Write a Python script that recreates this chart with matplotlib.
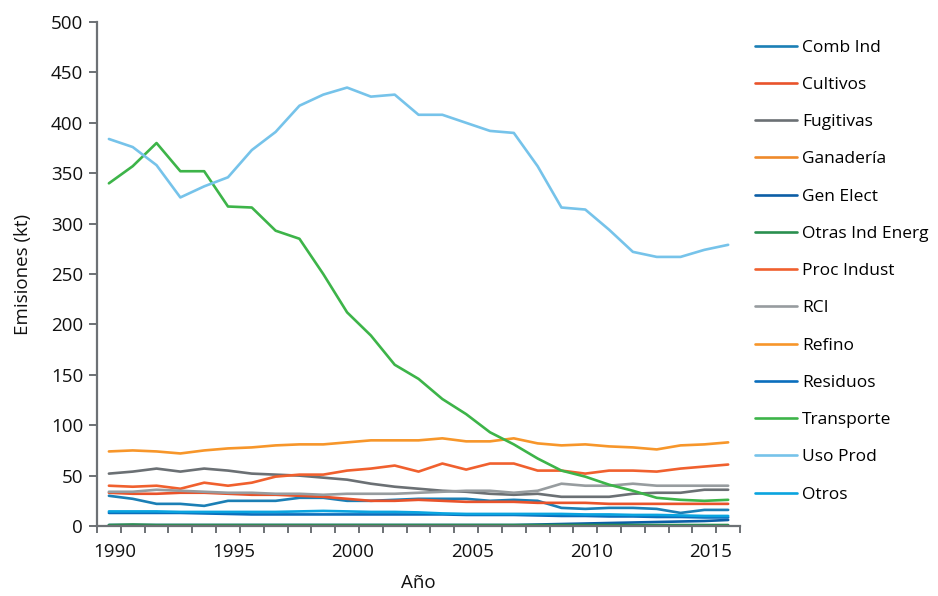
import numpy as np
import matplotlib
matplotlib.use("Agg")
import matplotlib.pyplot as plt
from matplotlib.ticker import MultipleLocator, FixedLocator

plt.rcParams['font.family'] = ['Open Sans', 'DejaVu Sans']

# --- Data ---
years = list(range(1990, 2017))

comb_ind = [30, 27, 22, 22, 20, 25, 25, 25, 28, 28, 25, 25, 26, 27, 27, 27, 25, 26, 25, 18, 17, 18, 18, 17, 13, 16, 16]
cultivos = [33, 32, 32, 33, 33, 32, 31, 31, 30, 29, 27, 25, 25, 26, 25, 24, 24, 24, 23, 23, 23, 22, 22, 22, 22, 22, 22]
fugitivas = [52, 54, 57, 54, 57, 55, 52, 51, 50, 48, 46, 42, 39, 37, 35, 34, 32, 31, 32, 29, 29, 29, 32, 33, 33, 36, 36]
ganaderia = [0.3, 0.3, 0.3, 0.3, 0.3, 0.3, 0.3, 0.3, 0.3, 0.3, 0.3, 0.3, 0.3, 0.3, 0.3, 0.3, 0.3, 0.3, 0.3, 0.3, 0.3, 0.3, 0.3, 0.3, 0.3, 0.3, 0.3]
gen_elect = [1, 1, 1, 1, 1, 1, 1, 1, 1, 1, 1, 1, 1, 1, 1, 1, 1, 1, 1.5, 2, 2.5, 3, 3.5, 4, 4.5, 5, 6]
otras_ind_energ = [1, 1.5, 1, 1, 1, 1, 1, 1, 1, 1, 1, 1, 1, 1, 1, 1, 1, 1, 1, 1, 1, 1, 1, 1, 1, 1, 1]
proc_indust = [40, 39, 40, 37, 43, 40, 43, 49, 51, 51, 55, 57, 60, 54, 62, 56, 62, 62, 55, 55, 52, 55, 55, 54, 57, 59, 61]
rci = [34, 34, 36, 35, 34, 33, 33, 32, 32, 31, 32, 32, 32, 33, 34, 35, 35, 33, 35, 42, 40, 40, 42, 40, 40, 40, 40]
refino = [74, 75, 74, 72, 75, 77, 78, 80, 81, 81, 83, 85, 85, 85, 87, 84, 84, 87, 82, 80, 81, 79, 78, 76, 80, 81, 83]
residuos = [13, 13, 13, 13, 12.5, 12, 11.5, 11.5, 11.5, 11.5, 11.5, 11.5, 11.5, 11.5, 11.5, 11, 11, 11, 10.5, 10, 10, 9.5, 9.5, 9, 9, 8.5, 8.5]
transporte = [340, 357, 380, 352, 352, 317, 316, 293, 285, 250, 212, 189, 160, 146, 126, 111, 93, 81, 67, 55, 49, 41, 35, 28, 26, 25, 26]
uso_prod = [384, 376, 358, 326, 337, 346, 373, 391, 417, 428, 435, 426, 428, 408, 408, 400, 392, 390, 357, 316, 314, 294, 272, 267, 267, 274, 279]
otros = [14.5, 14.5, 14.5, 14, 14, 14, 14, 14, 14.5, 15, 14.5, 14, 14, 13.5, 12.5, 12, 12, 12, 12, 12, 11.5, 11.5, 11, 11, 10.5, 10, 10]

series = [
    ("Comb Ind", comb_ind, "#1b7fb5"),
    ("Cultivos", cultivos, "#e9532b"),
    ("Fugitivas", fugitivas, "#6b7074"),
    ("Ganadería", ganaderia, "#ef8a2a"),
    ("Gen Elect", gen_elect, "#0c5ea6"),
    ("Otras Ind Energ", otras_ind_energ, "#2a8f4f"),
    ("Proc Indust", proc_indust, "#f0602e"),
    ("RCI", rci, "#979c9f"),
    ("Refino", refino, "#f7962a"),
    ("Residuos", residuos, "#0a6ebd"),
    ("Transporte", transporte, "#3db449"),
    ("Uso Prod", uso_prod, "#76c3ea"),
    ("Otros", otros, "#0aa4df"),
]

label_years = [1990, 1995, 2000, 2005, 2010, 2015]

# --- Plot ---
fig = plt.figure(figsize=(9.38, 5.96), dpi=100)
ax = fig.add_axes([0.1034, 0.1174, 0.6856, 0.8456])

for name, vals, col in series:
    ax.plot(years, vals, color=col, lw=1.9, label=name, solid_capstyle='round')

axis_grey = "#6d7175"
ax.set_xlim(1989.5, 2016.5)
ax.set_ylim(0, 500)
ax.yaxis.set_major_locator(MultipleLocator(50))
ax.xaxis.set_major_locator(FixedLocator([y + 0.25 for y in label_years]))
ax.set_xticklabels([str(y) for y in label_years])
ax.xaxis.set_minor_locator(FixedLocator(np.arange(1989.5, 2017, 1.0)))

for s in ["top", "right"]:
    ax.spines[s].set_visible(False)
for s in ["left", "bottom"]:
    ax.spines[s].set_color(axis_grey)
    ax.spines[s].set_linewidth(1.6)

ax.tick_params(axis='y', direction='out', length=6, width=1.4, color=axis_grey,
               labelsize=13.5, pad=4, labelcolor='#111111')
ax.tick_params(axis='x', which='major', length=0, labelsize=13.5, pad=12.5, labelcolor='#111111')
ax.tick_params(axis='x', which='minor', direction='out', length=5, width=1.4, color=axis_grey)

ax.set_xlabel("Año", fontsize=13.5, labelpad=9, color='#111111')
ax.set_ylabel("Emisiones (kt)", fontsize=13.5, labelpad=13.5, color='#111111')

fig.legend(loc='upper left', bbox_to_anchor=(0.805, 0.9336), frameon=False,
           fontsize=12.5, handlelength=2.4, handletextpad=0.3, labelspacing=1.215,
           borderpad=0, borderaxespad=0)

plt.savefig("out.png", dpi=100)
